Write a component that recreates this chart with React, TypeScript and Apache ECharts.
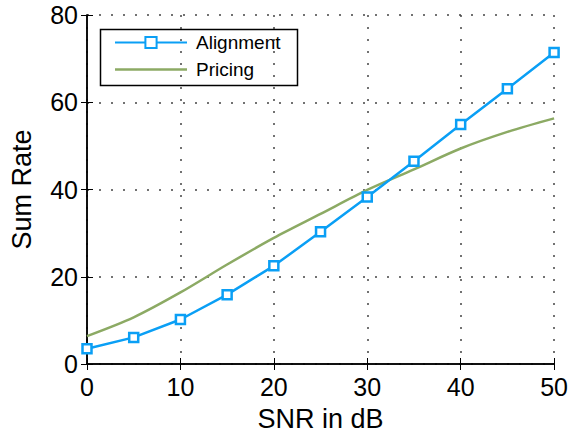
import React, { useEffect, useRef } from "react";
import * as echarts from "echarts";

const snr = [0, 5, 10, 15, 20, 25, 30, 35, 40, 45, 50];
const alignment = [3.5, 6.1, 10.2, 15.9, 22.5, 30.3, 38.3, 46.5, 54.9, 63.1, 71.4];
const pricing = [6.4, 10.7, 16.4, 22.8, 28.9, 34.4, 39.9, 44.6, 49.4, 53.2, 56.3];
const seriesNames = ["Alignment", "Pricing"];
const xTitle = "SNR in dB";
const yTitle = "Sum Rate";

const FONT = "'Liberation Sans', Arial, Helvetica, sans-serif";
const BLUE = "#0a9ff5";
const GREEN = "#8caa64";

export default function App() {
  const ref = useRef<HTMLDivElement>(null);
  useEffect(() => {
    if (!ref.current) return;
    const chart = echarts.init(ref.current, undefined, { renderer: "svg" });
    const axisCommon = {
      axisLine: { show: true, lineStyle: { color: "#000", width: 1.5 } },
      axisTick: { show: true, inside: true, length: 6, lineStyle: { color: "#000", width: 1 } },
    };
    const grid = { show: true, lineStyle: { color: "#444", type: [2, 10], width: 1.5 } };
    chart.setOption({
      animation: false,
      backgroundColor: "#fff",
      textStyle: { fontFamily: FONT },
      grid: { left: 86, right: 16, top: 15, bottom: 71, containLabel: false },
      legend: {
        orient: "vertical",
        left: 114,
        top: 33,
        padding: 0,
        itemWidth: 72,
        itemHeight: 14,
        itemGap: 8,
        textStyle: { fontFamily: FONT, fontSize: 19, color: "#000", padding: [0, 0, 0, 4] },
        data: [
          { name: seriesNames[0] },
          {
            name: seriesNames[1],
            icon: "path://M0,0L72,0L72,2.5L0,2.5Z",
            itemStyle: { color: GREEN, borderWidth: 0 },
          },
        ],
      },
      graphic: [
        {
          type: "rect",
          left: 98,
          top: 27,
          shape: { width: 197, height: 56 },
          style: { fill: "none", stroke: "#000", lineWidth: 1.5 },
          z: 10,
        },
      ],
      xAxis: [
        {
          type: "value",
          min: 0,
          max: 50,
          interval: 10,
          position: "bottom",
          name: xTitle,
          nameLocation: "middle",
          nameGap: 41,
          nameTextStyle: { fontFamily: FONT, fontSize: 27, color: "#000" },
          ...axisCommon,
          axisLabel: { fontFamily: FONT, fontSize: 25, color: "#000", margin: 10 },
          splitLine: grid,
        },
        {
          type: "value",
          min: 0,
          max: 50,
          interval: 10,
          position: "top",
          ...axisCommon,
          axisLabel: { show: false },
          splitLine: { show: false },
        },
      ],
      yAxis: [
        {
          type: "value",
          min: 0,
          max: 80,
          interval: 20,
          position: "left",
          name: yTitle,
          nameLocation: "middle",
          nameGap: 52,
          nameTextStyle: { fontFamily: FONT, fontSize: 27, color: "#000" },
          ...axisCommon,
          axisLabel: { fontFamily: FONT, fontSize: 25, color: "#000", margin: 9 },
          splitLine: grid,
        },
        {
          type: "value",
          min: 0,
          max: 80,
          interval: 20,
          position: "right",
          ...axisCommon,
          axisLabel: { show: false },
          splitLine: { show: false },
        },
      ],
      series: [
        {
          name: seriesNames[0],
          type: "line",
          data: snr.map((x, i) => [x, alignment[i]]),
          symbol: "rect",
          symbolSize: 9,
          showAllSymbol: true,
          lineStyle: { color: BLUE, width: 2.5 },
          itemStyle: { color: "#fff", borderColor: BLUE, borderWidth: 2.5 },
          z: 3,
        },
        {
          name: seriesNames[1],
          type: "line",
          data: snr.map((x, i) => [x, pricing[i]]),
          symbol: "none",
          smooth: 0.3,
          lineStyle: { color: GREEN, width: 2.5 },
          itemStyle: { color: GREEN },
          z: 2,
        },
      ],
    });
    return () => chart.dispose();
  }, []);
  return <div ref={ref} style={{ width: 571, height: 437, position: "absolute", left: 0, top: 0 }} />;
}
